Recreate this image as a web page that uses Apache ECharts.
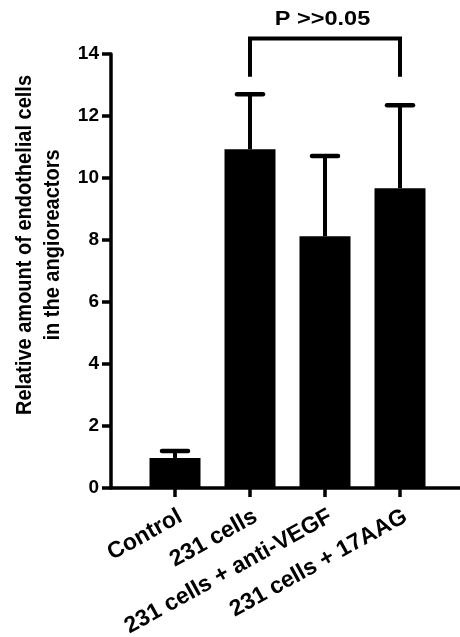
<!DOCTYPE html>
<html><head><meta charset="utf-8">
<script src="https://cdn.jsdelivr.net/npm/echarts@6/dist/echarts.min.js"></script>
<style>html,body{margin:0;padding:0;background:#fff}#c{width:460px;height:637px}</style>
</head><body><div id="c"></div>
<script>
const categories = ['Control', '231 cells', '231 cells + anti-VEGF', '231 cells + 17AAG'];
const means = [0.97, 10.93, 8.12, 9.67];
const errors = [0.22, 1.77, 2.59, 2.68];
const yTicks = [0, 2, 4, 6, 8, 10, 12, 14];
const bracketIdx = [1, 3];
const bracketY = [13.27, 14.5];
const pText = 'P >>0.05';
const yTitle = ['Relative amount of endothelial cells', 'in the angioreactors'];

const FONT = 'Liberation Sans, Arial, sans-serif';
const chart = echarts.init(document.getElementById('c'), null, {renderer: 'canvas'});

const bracketData = [
  [bracketIdx[0], bracketY[0]], [bracketIdx[0], bracketY[1]],
  [bracketIdx[1], bracketY[1]], [bracketIdx[1], bracketY[0]]
];

chart.setOption({
  animation: false,
  backgroundColor: '#fff',
  graphic: [{
    type: 'text', x: 39, y: 245, rotation: Math.PI / 2, scaleY: 1.1,
    style: {
      text: yTitle.join('\n'), fontFamily: FONT, fontWeight: 'bold', fontSize: 20,
      lineHeight: 25, fill: '#000', align: 'center', verticalAlign: 'middle'
    }
  }, {
    type: 'text', x: 322.5, y: 19, scaleX: 1.12,
    style: {
      text: pText, fontFamily: FONT, fontWeight: 'bold', fontSize: 21,
      fill: '#000', align: 'center', verticalAlign: 'middle'
    }
  }],
  grid: [
    {left: 137.5, right: 22.5, top: 54, bottom: 149, containLabel: false, outerBoundsMode: 'none'},
    {left: 111, right: 0, top: 54, bottom: 149, containLabel: false, outerBoundsMode: 'none'}
  ],
  xAxis: [{
    type: 'category', data: categories, gridIndex: 0,
    axisLine: {show: false},
    axisTick: {show: true, alignWithLabel: true, length: 9, lineStyle: {color: '#000', width: 3.5}},
    axisLabel: {rotate: 29, margin: 17, align: 'right', verticalAlign: 'top', color: '#000', fontFamily: FONT, fontWeight: 'bold', fontSize: 23, interval: 0}
  }, {
    type: 'value', gridIndex: 1, min: 0, max: 1,
    axisLine: {show: true, lineStyle: {color: '#000', width: 3.5}},
    axisTick: {show: false}, axisLabel: {show: false}, splitLine: {show: false}
  }],
  yAxis: [{
    type: 'value', gridIndex: 0, min: yTicks[0], max: yTicks[yTicks.length - 1], interval: yTicks[1] - yTicks[0],
    offset: 26.5,
    axisLine: {show: true, lineStyle: {color: '#000', width: 3.5}},
    axisTick: {show: true, length: 9, lineStyle: {color: '#000', width: 3.5}},
    axisLabel: {margin: 12, color: '#000', fontFamily: FONT, fontWeight: 'bold', fontSize: 19},
    splitLine: {show: false}
  }, {
    type: 'value', gridIndex: 1, show: false
  }],
  series: [{
    type: 'bar', data: means, barWidth: 51, itemStyle: {color: '#000'}, z: 2
  }, {
    type: 'custom', z: 3,
    data: means.map((m, i) => [i, m, m + errors[i]]),
    renderItem: function (params, api) {
      const lo = api.coord([api.value(0), api.value(1)]);
      const hi = api.coord([api.value(0), api.value(2)]);
      const half = 15;
      return {
        type: 'group', children: [
          {type: 'line', shape: {x1: lo[0], y1: lo[1], x2: hi[0], y2: hi[1]}, style: {stroke: '#000', lineWidth: 4}},
          {type: 'line', shape: {x1: hi[0] - half + 2, y1: hi[1], x2: hi[0] + half - 2, y2: hi[1]}, style: {stroke: '#000', lineWidth: 4.5, lineCap: 'round'}}
        ]
      };
    }
  }, {
    type: 'line', data: bracketData, clip: false, symbol: 'none',
    lineStyle: {color: '#000', width: 4, join: 'miter'}, z: 4
  }]
});
</script></body></html>
